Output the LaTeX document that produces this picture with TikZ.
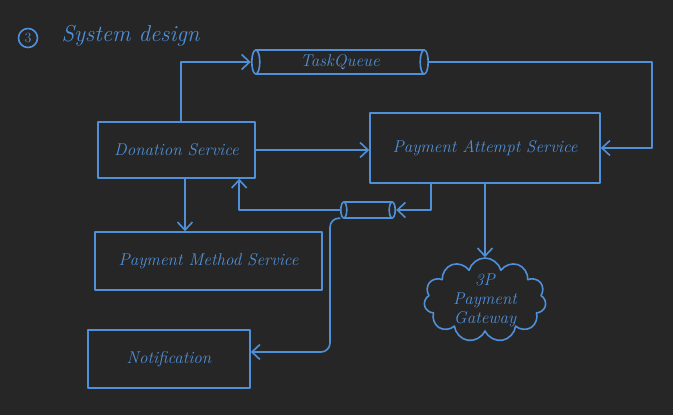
\documentclass[tikz,border=0pt]{standalone}
\usepackage{fontspec}
\usetikzlibrary{arrows.meta,shapes.symbols,calc}
\definecolor{bg}{HTML}{262626}
\definecolor{ink}{HTML}{4F90D9}
\tikzset{
  ink/.style={draw=ink, line width=1.6pt, line cap=round, line join=round},
  box/.style={ink, rectangle, text=ink, font=\fontsize{17}{20}\selectfont\itshape, inner sep=0pt},
  qbox/.style={rectangle, text=ink, font=\fontsize{17}{20}\selectfont\itshape, inner sep=0pt},
  arr/.style={ink, -{Straight Barb[length=8pt,width=15pt]}},
}
\begin{document}
\begin{tikzpicture}[x=1pt,y=-1pt]
\fill[bg] (0,0) rectangle (673,415);
\useasboundingbox (0,0) rectangle (673,415);

% title
\node[ink, circle, minimum size=19pt, inner sep=0pt, text=ink, font=\fontsize{14}{15}\selectfont] (num) at (28,38) {3};
\node[anchor=west, text=ink, font=\fontsize{23}{25}\selectfont\itshape] (title) at (58,36) {System design};

% boxes
\node[box, minimum width=157, minimum height=56] (ds) at (176.5,150) {Donation Service};
\node[box, minimum width=230, minimum height=70] (pas) at (485,148) {Payment Attempt Service};
\node[box, minimum width=227, minimum height=58] (pms) at (208.5,261) {Payment Method Service};
\node[box, minimum width=162, minimum height=58] (nt) at (169,359) {Notification};
\node[ink, cloud, cloud puffs=11, aspect=1.4, minimum width=122, minimum height=84, text=ink, align=center, inner sep=-12pt,
      font=\fontsize{17}{19}\selectfont\itshape] (gw) at (485,300) {3P\\Payment\\Gateway};

% task queue
\node[qbox, minimum width=168, minimum height=24] (tq) at (340,62) {TaskQueue};
\draw[ink] (tq.north west) -- (tq.north east) (tq.south west) -- (tq.south east);
\draw[ink] (tq.west) ellipse (4pt and 12pt);
\draw[ink] (tq.east) ellipse (4pt and 12pt);

% small queue
\node[qbox, minimum width=48, minimum height=16] (sq) at (368,210) {};
\draw[ink] (sq.north west) -- (sq.north east) (sq.south west) -- (sq.south east);
\draw[ink] (sq.west) ellipse (3pt and 8pt);
\draw[ink] (sq.east) ellipse (3pt and 8pt);

% connectors
\coordinate (cr) at (652,0);
\coordinate (nc) at (330,0);
\coordinate (ntin) at ([yshift=7pt]nt.east);
\draw[arr] ([xshift=4.5pt]ds.north) |- ([xshift=-5pt]tq.west);
\draw[arr] ([xshift=4pt]tq.east) -| (cr |- pas.east) -- (pas.east);
\draw[arr] (ds.east) -- (ds.east -| pas.west);
\draw[arr] ($(pas.south west)+(62,0)$) |- ([xshift=4pt]sq.east);
\draw[arr] ([xshift=-3pt]sq.west) -| ($(ds.south west)+(142,0)$);
\draw[arr, rounded corners=9pt] ([xshift=-4pt]sq.south west) -| (nc |- ntin) -- (ntin);
\draw[arr] ([xshift=8.5pt]ds.south) -- ([xshift=8.5pt]ds.south |- pms.north);
\draw[arr] (pas.south) -- (gw.north);
\end{tikzpicture}
\end{document}
